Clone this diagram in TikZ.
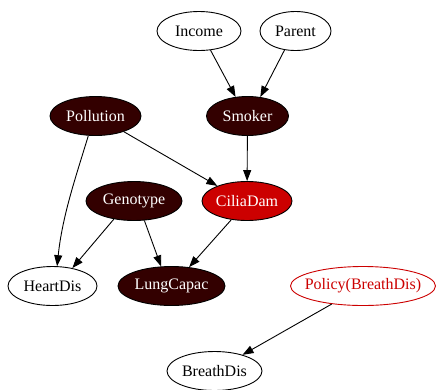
\documentclass[tikz,border=0pt]{standalone}
\usepackage{fontspec}
\setmainfont{Liberation Serif}
\usetikzlibrary{shapes.geometric,arrows.meta}
\definecolor{darknode}{RGB}{51,0,0}
\definecolor{alertred}{RGB}{204,0,0}
\begin{document}
\begin{tikzpicture}[x=1pt,y=-1pt,
  every node/.style={font=\fontsize{16}{19}\selectfont},
  bn/.style={ellipse,draw=black,line width=0.9pt,inner sep=0pt,minimum height=39pt},
  plain/.style={bn,fill=white,text=black},
  dark/.style={bn,fill=darknode,text=white},
  hot/.style={bn,fill=alertred,text=white},
  policy/.style={bn,draw=alertred,fill=white,text=alertred,inner xsep=-12pt},
  link/.style={line width=0.9pt,-{Triangle[length=11pt,width=8pt]}}]
\useasboundingbox (0,0) rectangle (436,389);

% nodes
\node[plain,minimum width=84pt] (inc) at (199,31) {Income};
\node[plain,minimum width=71pt] (par) at (295.5,31) {Parent};
\node[dark,minimum width=91pt] (pol) at (95.5,116) {Pollution};
\node[dark,minimum width=82pt] (smk) at (247.5,116) {Smoker};
\node[dark,minimum width=96pt] (gen) at (134,201) {Genotype};
\node[hot,minimum width=90pt] (cil) at (247,201) {CiliaDam};
\node[plain,minimum width=89pt] (hd) at (52.5,286) {HeartDis};
\node[dark,minimum width=107pt] (lc) at (171.5,286) {LungCapac};
\node[policy,minimum width=145pt] (pbd) at (363,286) {Policy(BreathDis)};
\node[plain,minimum width=95pt] (bd) at (214.5,371) {BreathDis};

% edges
\draw[link] (inc.-59) -- (smk.122);
\draw[link] (par.-120) -- (smk.56);
\draw[link] (smk) -- (cil);
\draw[link] (pol.-29) -- (cil.153);
\draw[link] (pol.-110) .. controls +(-107:45pt) and +(84:50pt) .. (hd.77);
\draw[link] (gen.-138) -- (hd.42);
\draw[link] (gen.-62) -- (lc.118);
\draw[link] (cil.-130) -- (lc.47);
\draw[link] (pbd.-150) -- (bd.30);
\end{tikzpicture}
\end{document}
